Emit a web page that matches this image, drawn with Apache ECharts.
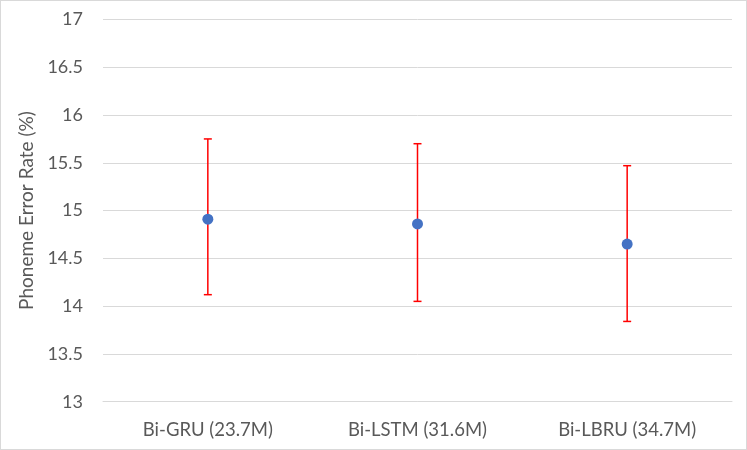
<!DOCTYPE html>
<html>
<head>
<meta charset="utf-8">
<script src="https://cdn.jsdelivr.net/npm/echarts@6/dist/echarts.min.js"></script>
<style>
html, body { margin: 0; padding: 0; background: #fff; }
#chart { width: 745px; height: 448px; border: 1px solid #d9d9d9; }
</style>
</head>
<body>
<div id="chart"></div>
<script>
var categories = ['Bi-GRU (23.7M)', 'Bi-LSTM (31.6M)', 'Bi-LBRU (34.7M)'];
var meanValues = [14.91, 14.86, 14.65];
var lowValues = [14.12, 14.05, 13.84];
var highValues = [15.75, 15.70, 15.47];

var chart = echarts.init(document.getElementById('chart'));

var errorData = [];
for (var i = 0; i < categories.length; i++) {
	errorData.push([i, lowValues[i], highValues[i]]);
}

var font = 'Lato, "Open Sans", sans-serif';

var option = {
	animation: false,
	grid: { left: 102, right: 14, top: 18.5, bottom: 47.3 },
	xAxis: {
		type: 'category',
		data: categories,
		axisTick: { show: false },
		axisLine: { lineStyle: { color: '#d9d9d9', width: 1 } },
		axisLabel: { color: '#595959', fontSize: 18.5, fontFamily: font, margin: 19 }
	},
	yAxis: {
		type: 'value',
		min: 13,
		max: 17,
		interval: 0.5,
		name: 'Phoneme Error Rate (%)',
		nameLocation: 'middle',
		nameGap: 59,
		nameTextStyle: { color: '#595959', fontSize: 19, fontFamily: font },
		axisLine: { show: false },
		axisTick: { show: false },
		axisLabel: { color: '#595959', fontSize: 18, fontFamily: font, margin: 20 },
		splitLine: { lineStyle: { color: '#d9d9d9', width: 1 } }
	},
	series: [
		{
			type: 'custom',
			data: errorData,
			z: 2,
			renderItem: function (params, api) {
				var x = api.value(0);
				var lo = api.coord([x, api.value(1)]);
				var hi = api.coord([x, api.value(2)]);
				var cap = 4;
				var style = { stroke: '#ff0000', lineWidth: 1.5 };
				return {
					type: 'group',
					children: [
						{ type: 'line', shape: { x1: lo[0], y1: lo[1], x2: hi[0], y2: hi[1] }, style: style },
						{ type: 'line', shape: { x1: lo[0] - cap, y1: lo[1], x2: lo[0] + cap, y2: lo[1] }, style: style },
						{ type: 'line', shape: { x1: hi[0] - cap, y1: hi[1], x2: hi[0] + cap, y2: hi[1] }, style: style }
					]
				};
			}
		},
		{
			type: 'scatter',
			data: meanValues,
			z: 3,
			symbol: 'circle',
			symbolSize: 11,
			itemStyle: { color: '#4472c4', opacity: 1 }
		}
	]
};

chart.setOption(option);
</script>
</body>
</html>
